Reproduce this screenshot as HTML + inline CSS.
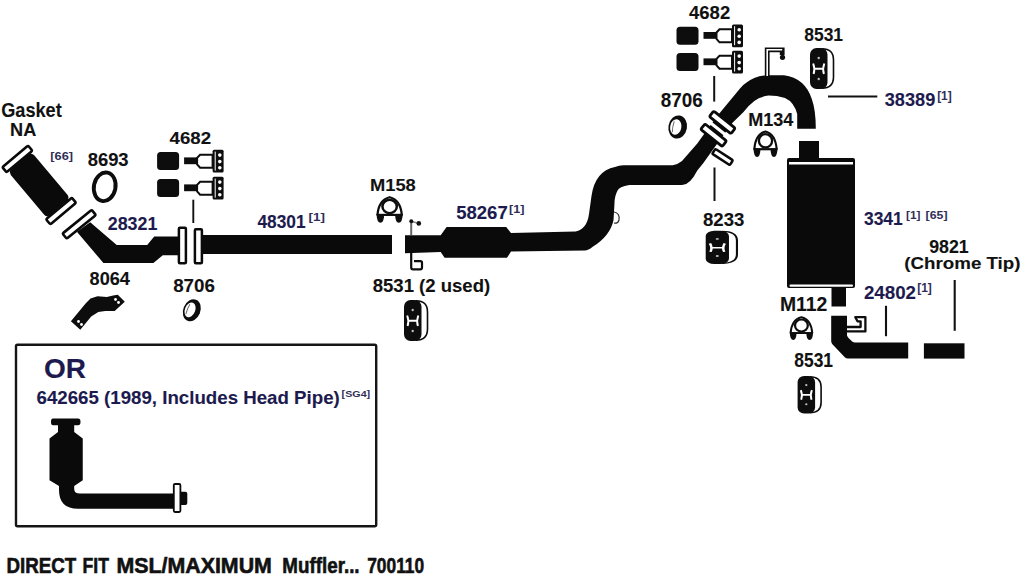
<!DOCTYPE html>
<html><head><meta charset="utf-8">
<style>
html,body{margin:0;padding:0;background:#fff;}
svg{display:block;}
text{font-family:"Liberation Sans",sans-serif;font-weight:bold;}
.k{fill:#111;stroke:#111;stroke-width:0.1px;}
.n{fill:#1c1a4e;stroke:#1c1a4e;stroke-width:0.1px;}
.s{fill:#302e58;}
</style></head><body>
<svg width="1024" height="579" viewBox="0 0 1024 579">
<defs>
  <g id="bolt">
    <rect x="0" y="0" width="22" height="18" rx="3.5" fill="#0d0d0d"/>
    <rect x="27" y="5.3" width="13" height="6.8" fill="#0d0d0d"/>
    <path d="M40,5.8 L43,2.6 L55.5,2.6 L55.5,15.6 L43,15.6 L40,12.2 Z" fill="#fff" stroke="#0d0d0d" stroke-width="2"/>
    <rect x="55.5" y="-2.3" width="11" height="22.8" rx="1.5" fill="#0d0d0d"/>
    <rect x="57.6" y="-0.5" width="1" height="19" fill="#fff"/>
    <circle cx="62.7" cy="3" r="1.8" fill="#fff"/>
    <circle cx="62.7" cy="9.5" r="1.8" fill="#fff"/>
    <circle cx="62.7" cy="15.7" r="1.8" fill="#fff"/>
  </g>
  <g id="clamp">
    <path d="M1.4,19 Q2.5,3.5 12.6,0.9 Q22.7,3.5 23.8,19" fill="#fff" stroke="#0d0d0d" stroke-width="2.1"/>
    <circle cx="12.6" cy="10.2" r="6.6" fill="#fff" stroke="#0d0d0d" stroke-width="2.3"/>
    <path d="M0.8,18.6 L24.4,18.6" stroke="#0d0d0d" stroke-width="2.2"/>
    <path d="M0.6,18 L7.6,18 Q7.4,26.4 4.2,26.4 Q0.9,26.4 0.6,18 Z" fill="#0d0d0d"/>
    <path d="M17.6,18 L24.6,18 Q24.3,26.4 21,26.4 Q17.8,26.4 17.6,18 Z" fill="#0d0d0d"/>
  </g>
  <g id="hanger">
    <path d="M12,0.8 Q23.5,0.8 23.5,12 L23.5,29 Q23.5,40.2 12,40.2" fill="#fff" stroke="#0d0d0d" stroke-width="1.6"/>
    <rect x="0" y="0" width="17.5" height="41" rx="6.5" fill="#0d0d0d"/>
    <path d="M3.2,15.5 Q5.2,20.8 3.6,26 M14.3,15.5 Q12.3,20.8 13.9,26 M4.4,20.8 L13.1,20.8" fill="none" stroke="#fff" stroke-width="1.9"/>
    <circle cx="8.7" cy="10" r="1.2" fill="#bbb"/>
    <circle cx="8.7" cy="31" r="1.2" fill="#bbb"/>
  </g>
  <g id="ring2">
    <ellipse cx="0" cy="0" rx="9.3" ry="11.6" fill="#0d0d0d"/>
    <ellipse cx="-1.9" cy="0.3" rx="5.6" ry="7.8" fill="#fff"/>
    <path d="M-4.4,-5 Q-5.3,0 -4.4,6" stroke="#666" stroke-width="1" fill="none"/>
  </g>
</defs>
<rect width="1024" height="579" fill="#fff"/>

<!-- ===== converter (left) ===== -->
<g transform="translate(39.2,185) rotate(50)">
  <path d="M-30,-12.5 Q-29,-15.3 -26,-15.3 L26,-15.3 Q29,-15.3 30,-12.5 L30,12.5 Q29,15.3 26,15.3 L-26,15.3 Q-29,15.3 -30,12.5 Z" fill="#0a0a0a"/>
  <rect x="-37.3" y="-16.8" width="6.6" height="33.6" rx="1.5" fill="#fff" stroke="#0a0a0a" stroke-width="2.6"/>
  <rect x="30.7" y="-16.8" width="6.6" height="33.6" rx="1.5" fill="#fff" stroke="#0a0a0a" stroke-width="2.6"/>
</g>

<!-- 28321 pipe -->
<path d="M90.2,222.3 L116.7,245 L147.2,245 L154.2,236.4 L180,236.4 L180,255.2 L162.8,255.2 L153.4,263 L103.4,263 L76.9,231.7 Z" fill="#0a0a0a"/>
<g transform="translate(79.2,224.3) rotate(51)">
  <rect x="-3.3" y="-18.8" width="6.6" height="37.6" rx="1.5" fill="#fff" stroke="#0a0a0a" stroke-width="2.6"/>
</g>
<rect x="178.9" y="227.7" width="7" height="35.5" rx="1" fill="#fff" stroke="#0a0a0a" stroke-width="2.5"/>
<rect x="194.9" y="229.2" width="7" height="34" rx="1" fill="#fff" stroke="#0a0a0a" stroke-width="2.5"/>
<line x1="193.3" y1="199.7" x2="193.3" y2="223" stroke="#111" stroke-width="1.9"/>

<!-- 8693 ring -->
<ellipse cx="104.7" cy="186.8" rx="10.8" ry="14.4" fill="none" stroke="#0d0d0d" stroke-width="3.9" transform="rotate(11 104.7 186.8)"/>
<!-- bolts left -->
<use href="#bolt" x="157.1" y="152.1"/>
<use href="#bolt" x="157.1" y="179.1"/>
<!-- 8064 bracket -->
<path d="M70.9,321.2 L85.8,303.3 L90.5,298.6 L97.5,296.2 L106.9,297 L113.1,295.5 L117.8,294.7 L124.8,301.7 L114.7,311 L105.3,311 L98.3,311.9 L91.2,316.6 L80.3,329.8 Z" fill="#0d0d0d"/>
<circle cx="78.5" cy="321.5" r="1.4" fill="#fff"/><circle cx="81.5" cy="324.5" r="1.4" fill="#fff"/>
<circle cx="115.5" cy="299.5" r="1.4" fill="#fff"/><circle cx="118.5" cy="302.5" r="1.4" fill="#fff"/>
<!-- 8706 ring left -->
<use href="#ring2" transform="translate(191.8,310.2) rotate(22) scale(0.92,0.98)"/>

<!-- 48301 pipe -->
<rect x="203" y="235" width="189" height="19" fill="#0a0a0a"/>

<!-- M158 clamp -->
<use href="#clamp" transform="translate(375.9,196.3) scale(1.09,1)"/>
<!-- hanger brackets at 405 -->
<path d="M411.2,235 L411.2,222" stroke="#666" stroke-width="2"/>
<path d="M411.2,221.5 L418.8,223.2" stroke="#888" stroke-width="1.5"/>
<circle cx="411.3" cy="221.3" r="2" fill="#111"/><circle cx="418.8" cy="223.4" r="2.3" fill="#111"/>
<path d="M411.2,253 L411.2,267.5 Q411.2,269.3 413,269.3 L420.3,269.3 Q422,269.3 422,267.5 L422,262.8 Q422,261.2 420.3,261.2 L414,261.2" fill="none" stroke="#0d0d0d" stroke-width="2.2"/>

<!-- right section -->
<path d="M405,235.3 L440.7,235.3 L446.6,227 L506.2,227 L511,233 L575.6,231.6 Q587,229 589,214 L591.5,196 Q595,171 615,167 Q619,165.2 623.4,165.2 L672.7,165.2 Q678,164.5 682,161.1 L697.3,143.5 L715.6,118 L740,88.5 Q743,84.5 746.6,82.4 Q756,75.2 768,75.2 L784,75.2 Q805,78 811.8,99 Q815.8,110 815.8,128.8 L797.2,128.8 L797.2,114 Q794,102 785,98 Q777,95.6 768.7,95.6 Q760,96.5 754.3,101.1 Q748,106 743.3,112.2 L732.5,122.8 L713,149.4 L703,163.4 L697.3,170.5 Q690,185.1 682,185.1 L629.3,185.1 Q619,187 617.6,190.4 Q614.5,196 614.5,203 L613.5,220.2 Q610,236 592.7,246.8 Q588,250.6 585,250.6 L511,251.6 L507,257.8 L444.6,257.8 L440.7,252 L405,253.3 Z" fill="#0a0a0a"/>
<!-- small ring on pipe -->
<path d="M614,212 Q620,213 619,220 Q618,224 614,223" fill="none" stroke="#333" stroke-width="1.2"/>
<!-- flanges on rising pipe -->
<g transform="translate(717.9,128.7) rotate(38.5)">
  <rect x="-12" y="-1.6" width="24" height="3.2" fill="#fff"/>
</g>
<g transform="translate(722.3,122.4) rotate(38.6)">
  <rect x="-13.8" y="-3.5" width="27.6" height="7" rx="1.8" fill="#fff" stroke="#0a0a0a" stroke-width="2.8"/>
</g>
<g transform="translate(713.6,135.2) rotate(38.5)">
  <rect x="-13.8" y="-3.5" width="27.6" height="7" rx="1.8" fill="#fff" stroke="#0a0a0a" stroke-width="2.8"/>
</g>
<g transform="translate(722.6,157) rotate(33)">
  <rect x="-10.5" y="-2.9" width="21" height="5.8" rx="1.2" fill="#fff" stroke="#0a0a0a" stroke-width="2.5"/>
</g>
<!-- hanger rod at arch top -->
<path d="M767.2,76 L767.2,49.8 L782.2,49.8 L782.2,55" fill="none" stroke="#0d0d0d" stroke-width="4.8"/>
<path d="M767.2,76 L767.2,49.8 L782.2,49.8" fill="none" stroke="#fff" stroke-width="1.6"/>
<circle cx="782.5" cy="57.3" r="2.6" fill="#0d0d0d"/>

<!-- bolts right -->
<use href="#bolt" x="676.5" y="26.7"/>
<use href="#bolt" x="676.5" y="53.1"/>
<!-- 8706 ring right -->
<use href="#ring2" transform="translate(677.7,127) rotate(10)"/>
<!-- M134 clamp -->
<use href="#clamp" x="752.9" y="130.6"/>

<!-- muffler -->
<rect x="799" y="141" width="20" height="19" fill="#0a0a0a"/>
<rect x="787" y="158" width="68" height="130" rx="2" fill="#0a0a0a"/>
<rect x="789" y="162" width="64" height="2.5" fill="#fff"/>
<rect x="789.5" y="284.6" width="63.5" height="2.2" rx="1" fill="#fff"/>
<rect x="831.5" y="287" width="14.5" height="19.5" fill="#0a0a0a"/>
<path d="M831.2,315.7 L847,315.7 L847,335.5 Q847.5,337 849,338.5 L852.5,341.8 Q853.5,342.6 855,342.6 L908.2,342.4 L908.2,358.4 L848,358.4 Q846,358.4 844.8,357.2 L832.4,344.2 Q831.2,343 831.2,341 Z" fill="#0a0a0a"/>
<rect x="923.9" y="343.3" width="40.6" height="15.3" fill="#0a0a0a"/>
<path d="M846.5,331.4 L865.4,331.4 L865.4,317.2 L855.3,317.2 L857.5,321.3 L860.6,321.3 L860.6,327 L846.5,327" fill="none" stroke="#0d0d0d" stroke-width="2.3" stroke-linejoin="round"/>
<line x1="886" y1="305.8" x2="886" y2="336.2" stroke="#111" stroke-width="2.1"/>
<line x1="954.7" y1="280" x2="954.7" y2="330.8" stroke="#111" stroke-width="2.1"/>
<line x1="828" y1="96.6" x2="877.3" y2="96.6" stroke="#111" stroke-width="2"/>
<line x1="714.5" y1="167.5" x2="714.5" y2="201" stroke="#111" stroke-width="2"/>
<line x1="714.2" y1="76" x2="714.2" y2="101.6" stroke="#111" stroke-width="2"/>

<!-- hangers -->
<use href="#hanger" x="404" y="300"/>
<use href="#hanger" x="810" y="48"/>
<use href="#hanger" transform="translate(797.6,376) scale(1,0.912)"/>
<use href="#hanger" transform="translate(705.7,230.8) scale(1.33,0.81)"/>
<!-- M112 clamp -->
<use href="#clamp" transform="translate(789.2,316.3) scale(0.97,0.9)"/>

<!-- OR box -->
<rect x="16" y="344.7" width="360.2" height="181.6" rx="1.5" fill="none" stroke="#151515" stroke-width="2.4"/>
<!-- OR converter -->
<path d="M53,418.6 L78,418.6 Q80.5,418.6 80.5,421.9 Q80.5,425.2 78,425.2 L74.2,425.2 L74.2,432 L82.75,438.5 L82.75,480.3 L74.2,486 L74.2,489 Q74.2,493.6 80,493.6 L173,493.6 L173,508.8 L78,508.8 Q59,508.8 59,490 L59,486 L49.5,480.3 L49.5,438.5 L58,432 L58,425.2 L53,425.2 Q51,425.2 51,421.9 Q51,418.6 53,418.6 Z" fill="#0a0a0a"/>
<rect x="179" y="491.7" width="8.3" height="13.3" rx="2" fill="#0a0a0a"/>
<rect x="173.8" y="484" width="6.6" height="28" rx="1.2" fill="#fff" stroke="#0a0a0a" stroke-width="1.8"/>

<!-- ===== texts ===== -->
<text x="1.21" y="116.75" font-size="19.77" textLength="60.57" lengthAdjust="spacingAndGlyphs" class="k">Gasket</text>
<text x="10.14" y="135.55" font-size="17.59" textLength="26.19" lengthAdjust="spacingAndGlyphs" class="k">NA</text>
<text x="87.67" y="165.65" font-size="18.02" textLength="40.95" lengthAdjust="spacingAndGlyphs" class="k">8693</text>
<text x="169.57" y="144.05" font-size="17.15" textLength="41.53" lengthAdjust="spacingAndGlyphs" class="k">4682</text>
<text x="107.73" y="230.35" font-size="18.17" textLength="49.62" lengthAdjust="spacingAndGlyphs" class="n">28321</text>
<text x="257.39" y="228.15" font-size="18.46" textLength="48.14" lengthAdjust="spacingAndGlyphs" class="n">48301</text>
<text x="89.57" y="285.15" font-size="17.88" textLength="40.37" lengthAdjust="spacingAndGlyphs" class="k">8064</text>
<text x="173.15" y="291.75" font-size="17.88" textLength="41.77" lengthAdjust="spacingAndGlyphs" class="k">8706</text>
<text x="370.03" y="191.15" font-size="16.72" textLength="45.79" lengthAdjust="spacingAndGlyphs" class="k">M158</text>
<text x="456.18" y="219.45" font-size="18.02" textLength="51.59" lengthAdjust="spacingAndGlyphs" class="n">58267</text>
<text x="689.07" y="19.15" font-size="18.60" textLength="41.12" lengthAdjust="spacingAndGlyphs" class="k">4682</text>
<text x="660.85" y="106.85" font-size="19.62" textLength="41.98" lengthAdjust="spacingAndGlyphs" class="k">8706</text>
<text x="748.24" y="126.35" font-size="19.04" textLength="45.10" lengthAdjust="spacingAndGlyphs" class="k">M134</text>
<text x="804.30" y="41.15" font-size="18.60" textLength="38.74" lengthAdjust="spacingAndGlyphs" class="k">8531</text>
<text x="884.73" y="105.95" font-size="17.44" textLength="50.59" lengthAdjust="spacingAndGlyphs" class="n">38389</text>
<text x="702.96" y="225.65" font-size="17.88" textLength="41.36" lengthAdjust="spacingAndGlyphs" class="k">8233</text>
<text x="863.95" y="225.35" font-size="18.90" textLength="38.79" lengthAdjust="spacingAndGlyphs" class="n">3341</text>
<text x="929.23" y="253.15" font-size="18.46" textLength="39.51" lengthAdjust="spacingAndGlyphs" class="k">9821</text>
<text x="863.90" y="298.85" font-size="18.60" textLength="52.10" lengthAdjust="spacingAndGlyphs" class="n">24802</text>
<text x="779.88" y="311.45" font-size="19.91" textLength="47.43" lengthAdjust="spacingAndGlyphs" class="k">M112</text>
<text x="794.30" y="366.85" font-size="19.62" textLength="38.74" lengthAdjust="spacingAndGlyphs" class="k">8531</text>
<text x="372.76" y="291.55" font-size="19.19" textLength="117.41" lengthAdjust="spacingAndGlyphs" class="k">8531 (2 used)</text>
<text x="904.32" y="268.55" font-size="16.13" textLength="116.16" lengthAdjust="spacingAndGlyphs" class="k">(Chrome Tip)</text>
<text x="44.00" y="377.55" font-size="27.62" textLength="42.02" lengthAdjust="spacingAndGlyphs" class="n">OR</text>
<text x="36.57" y="404.25" font-size="18.60" textLength="303.21" lengthAdjust="spacingAndGlyphs" class="n">642665 (1989, Includes Head Pipe)</text>
<text x="50.28" y="160.07" font-size="11.00" textLength="22.74" lengthAdjust="spacingAndGlyphs" class="s">[66]</text>
<text x="308.55" y="221.31" font-size="11.05" textLength="16.41" lengthAdjust="spacingAndGlyphs" class="s">[1]</text>
<text x="509.09" y="212.72" font-size="11.48" textLength="15.42" lengthAdjust="spacingAndGlyphs" class="s">[1]</text>
<text x="937.13" y="99.56" font-size="12.23" textLength="14.65" lengthAdjust="spacingAndGlyphs" class="s">[1]</text>
<text x="906.14" y="218.87" font-size="11.69" textLength="14.43" lengthAdjust="spacingAndGlyphs" class="s">[1]</text>
<text x="925.61" y="218.87" font-size="11.69" textLength="21.88" lengthAdjust="spacingAndGlyphs" class="s">[65]</text>
<text x="917.23" y="291.63" font-size="11.91" textLength="14.65" lengthAdjust="spacingAndGlyphs" class="s">[1]</text>
<text x="341.60" y="396.77" font-size="8.80" textLength="28.60" lengthAdjust="spacingAndGlyphs" class="s">[SG4]</text>
<g font-size="21.7" class="k" style="stroke-width:0.6px">
<text x="6.4" y="573.4" textLength="69.8" lengthAdjust="spacingAndGlyphs">DIRECT</text>
<text x="82.6" y="573.4" textLength="26.4" lengthAdjust="spacingAndGlyphs">FIT</text>
<text x="116.4" y="573.4" textLength="155.5" lengthAdjust="spacingAndGlyphs">MSL/MAXIMUM</text>
<text x="282.3" y="573.4" textLength="77.3" lengthAdjust="spacingAndGlyphs">Muffler...</text>
<text x="367.2" y="573.4" textLength="57" lengthAdjust="spacingAndGlyphs">700110</text>
</g>
</svg>
</body></html>
